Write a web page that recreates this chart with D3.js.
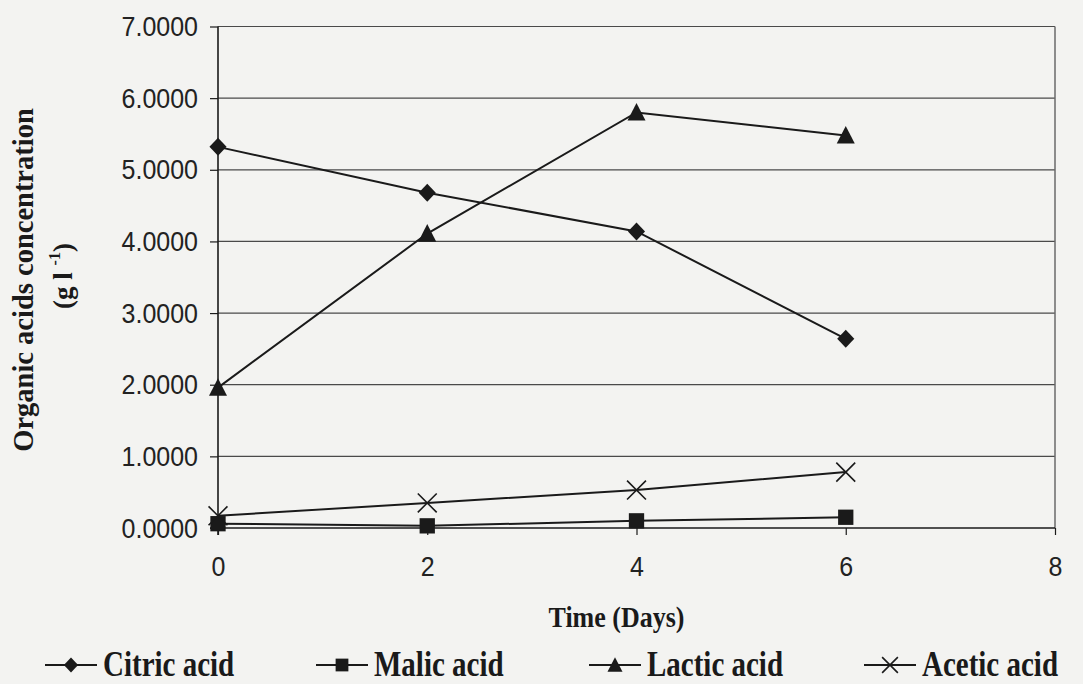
<!DOCTYPE html>
<html>
<head>
<meta charset="utf-8">
<script src="https://cdn.jsdelivr.net/npm/d3@7"></script>
<style>
  html, body { margin: 0; padding: 0; background: #f3f3f1; }
  svg { display: block; }
</style>
</head>
<body>
<svg id="chart" width="1083" height="684"></svg>
<script>
// Sampling days
const days = [0, 2, 4, 6];

// Organic acid concentrations (g l-1) per sampling day
const citric = [5.32, 4.68, 4.14, 2.64];
const malic  = [0.06, 0.03, 0.10, 0.15];
const lactic = [1.96, 4.11, 5.80, 5.48];
const acetic = [0.17, 0.35, 0.53, 0.78];

const seriesNames = ["Citric acid", "Malic acid", "Lactic acid", "Acetic acid"];
const seriesSymbols = ["diamond", "square", "triangle", "cross"];

const yTicks = [0, 1, 2, 3, 4, 5, 6, 7];
const xTicks = [0, 2, 4, 6, 8];

const series = [citric, malic, lactic, acetic].map((vals, i) => ({
  name: seriesNames[i],
  symbol: seriesSymbols[i],
  points: days.map((d, j) => ({ x: d, y: vals[j] }))
}));

const svg = d3.select("#chart");
const plotLeft = 218, plotRight = 1055, plotTop = 26.5, plotBottom = 528;

const x = d3.scaleLinear().domain([0, 8]).range([plotLeft, plotRight]);
const y = d3.scaleLinear().domain([0, 7]).range([plotBottom, plotTop]);

const ink = "#1a1a1a";
const serif = "'Liberation Serif', 'Times New Roman', serif";
const sans = "'Liberation Sans', Arial, sans-serif";

// horizontal gridlines
svg.append("g")
  .selectAll("line")
  .data(yTicks.filter(t => t > 0))
  .join("line")
  .attr("x1", plotLeft).attr("x2", plotRight)
  .attr("y1", d => y(d)).attr("y2", d => y(d))
  .attr("stroke", "#4a4a4a").attr("stroke-width", 1.2);

// right border of plot area
svg.append("line")
  .attr("x1", plotRight).attr("x2", plotRight)
  .attr("y1", plotTop).attr("y2", plotBottom)
  .attr("stroke", "#6a6a6a").attr("stroke-width", 1.5);

// y axis
const yAxis = svg.append("g")
  .attr("transform", `translate(${plotLeft},0)`)
  .call(d3.axisLeft(y).tickValues(yTicks).tickFormat(d3.format(".4f")).tickSize(8).tickPadding(12));
yAxis.select(".domain").attr("stroke", ink).attr("stroke-width", 1.6).attr("d", `M0,${plotTop}V${plotBottom + 7}`);
yAxis.selectAll(".tick line").attr("stroke", ink).attr("stroke-width", 1.2);
yAxis.selectAll(".tick text")
  .attr("fill", "#222")
  .attr("font-family", sans)
  .attr("font-size", 25)
  .attr("dy", null)
  .attr("y", 0)
  .attr("transform", "translate(0,9) scale(1,1.08)");

// x axis
const xAxis = svg.append("g")
  .attr("transform", `translate(0,${plotBottom})`)
  .call(d3.axisBottom(x).tickValues(xTicks).tickFormat(d3.format("d")).tickSize(7).tickPadding(22));
xAxis.select(".domain").attr("stroke", ink).attr("stroke-width", 1.6).attr("d", `M${plotLeft - 8},0H${plotRight}`);
xAxis.selectAll(".tick line").attr("stroke", ink).attr("stroke-width", 1.2);
xAxis.selectAll(".tick text")
  .attr("fill", "#222")
  .attr("font-family", sans)
  .attr("font-size", 25)
  .attr("dy", null)
  .attr("y", 0)
  .attr("transform", "translate(0,48) scale(1,1.08)");

// series lines
const line = d3.line().x(d => x(d.x)).y(d => y(d.y));
svg.append("g")
  .selectAll("path")
  .data(series)
  .join("path")
  .attr("d", d => line(d.points))
  .attr("fill", "none")
  .attr("stroke", ink)
  .attr("stroke-width", 2);

// marker drawing; s is the half-size of the marker
function drawMarker(g, symbol, cx, cy, s) {
  if (symbol === "diamond") {
    g.append("path")
      .attr("d", `M${cx},${cy - s}L${cx + s * 0.95},${cy}L${cx},${cy + s}L${cx - s * 0.95},${cy}Z`)
      .attr("fill", ink);
  } else if (symbol === "square") {
    const h = s * 0.85;
    g.append("rect").attr("x", cx - h).attr("y", cy - h).attr("width", 2 * h).attr("height", 2 * h).attr("fill", ink);
  } else if (symbol === "triangle") {
    g.append("path")
      .attr("d", `M${cx},${cy - s * 1.05}L${cx + s},${cy + s * 0.9}L${cx - s},${cy + s * 0.9}Z`)
      .attr("fill", ink);
  } else {
    const r = s * 1.05;
    g.append("path")
      .attr("d", `M${cx - r},${cy - r}L${cx + r},${cy + r}M${cx - r},${cy + r}L${cx + r},${cy - r}`)
      .attr("stroke", ink).attr("stroke-width", 1.6).attr("fill", "none");
  }
}

const markers = svg.append("g");
series.forEach(s => {
  s.points.forEach(p => drawMarker(markers, s.symbol, x(p.x), y(p.y), 9));
});

// axis titles
svg.append("text")
  .attr("transform", "translate(33,280) rotate(-90)")
  .attr("text-anchor", "middle")
  .attr("font-family", serif)
  .attr("font-weight", "bold")
  .attr("font-size", 28.5)
  .attr("fill", "#1a1a1a")
  .text("Organic acids concentration");

const unit = svg.append("text")
  .attr("transform", "translate(72,276) rotate(-90)")
  .attr("text-anchor", "middle")
  .attr("font-family", serif)
  .attr("font-weight", "bold")
  .attr("font-size", 27)
  .attr("fill", "#1a1a1a");
unit.append("tspan").text("(g l ");
unit.append("tspan").attr("font-size", 16).attr("dy", -12).text("-1");
unit.append("tspan").attr("dy", 12).text(")");

svg.append("text")
  .attr("transform", `translate(${(x(0) + x(8)) / 2 - 20},627) scale(1,1.15)`)
  .attr("text-anchor", "middle")
  .attr("font-family", serif)
  .attr("font-weight", "bold")
  .attr("font-size", 26)
  .attr("fill", "#1a1a1a")
  .text("Time (Days)");

// legend
const legendX = [103, 374, 647, 922];
const legendY = 665;
const legend = svg.append("g");
series.forEach((s, i) => {
  const tx = legendX[i];
  legend.append("line")
    .attr("x1", tx - 58).attr("x2", tx - 6)
    .attr("y1", legendY).attr("y2", legendY)
    .attr("stroke", ink).attr("stroke-width", 1.8);
  drawMarker(legend, s.symbol, tx - 32, legendY, 7.5);
  legend.append("text")
    .attr("transform", `translate(${tx},${legendY + 11}) scale(1,1.2)`)
    .attr("font-family", serif)
    .attr("font-weight", "bold")
    .attr("font-size", 29)
    .attr("fill", "#1a1a1a")
    .text(s.name);
});
</script>
</body>
</html>
